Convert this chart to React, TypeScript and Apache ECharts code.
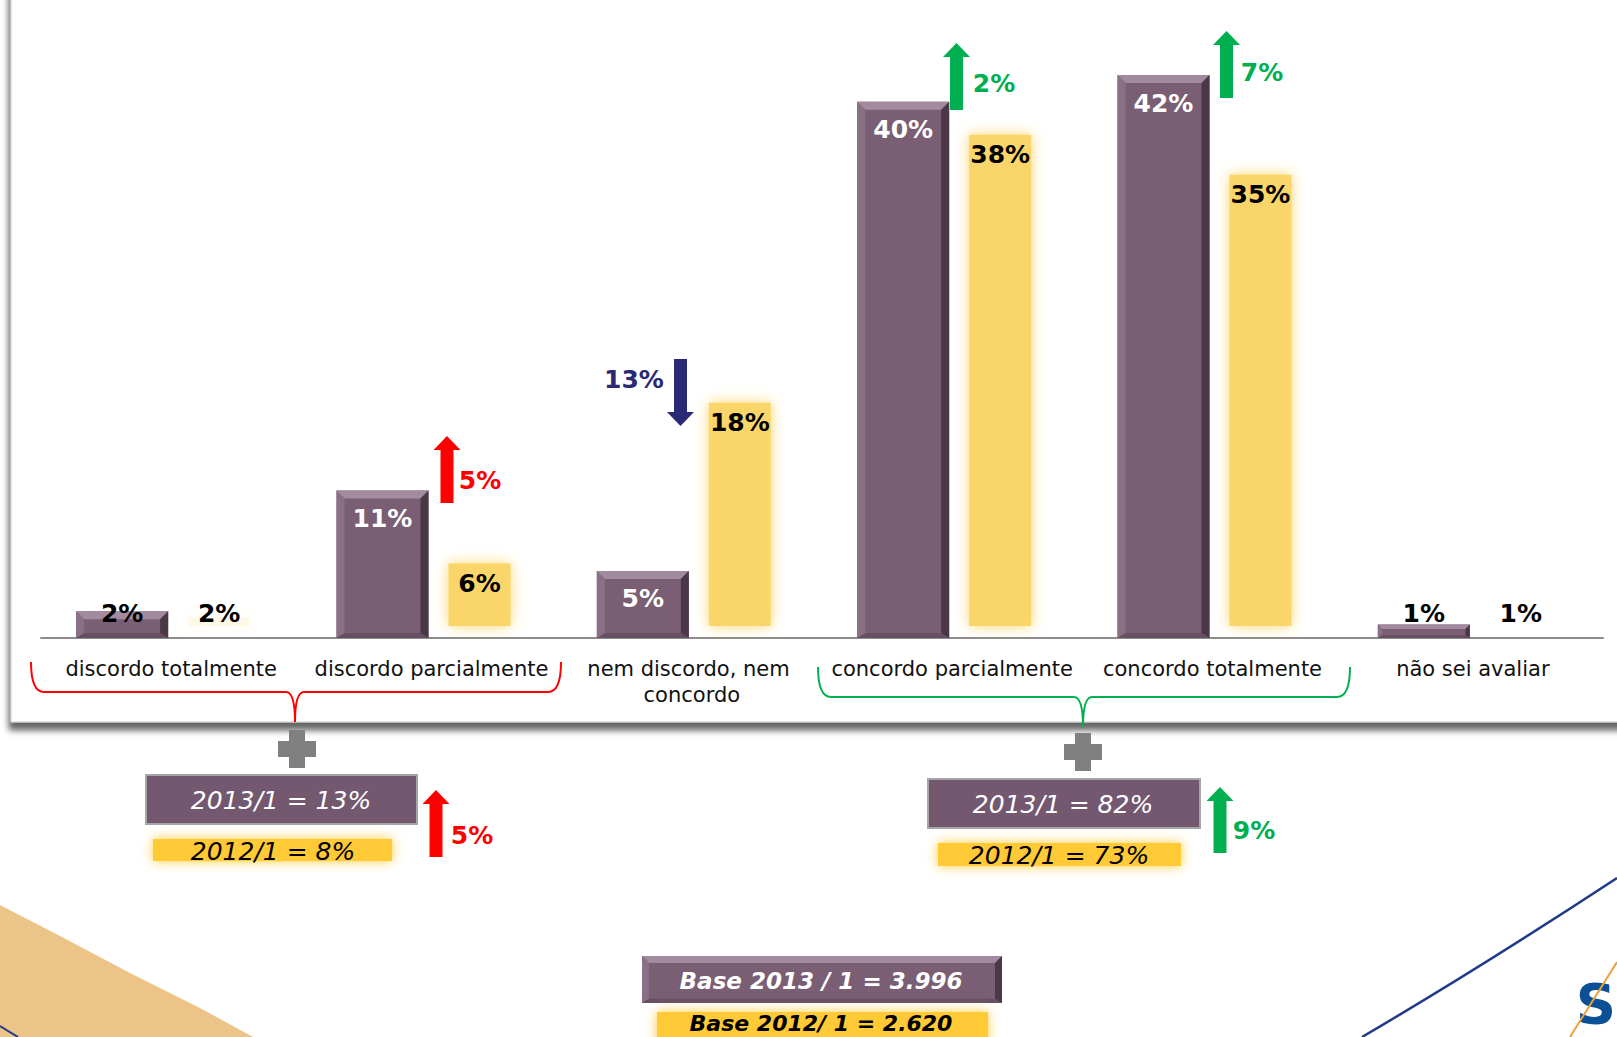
import React, { useEffect, useRef } from 'react';
import * as echarts from 'echarts';

// ---------------- data ----------------
const categories = [
  'discordo totalmente',
  'discordo parcialmente',
  'nem discordo, nem concordo',
  'concordo parcialmente',
  'concordo totalmente',
  'não sei avaliar',
];
const values2013 = [2, 11, 5, 40, 42, 1];
const values2012 = [2, 6, 18, 38, 35, 1];
const period2013 = '2013/1';
const period2012 = '2012/1';
const disagreeIdx = [0, 1];
const agreeIdx = [3, 4];
const base2013 = '3.996';
const base2012 = '2.620';
const yMax = 47;

// ---------------- styles ----------------
const PURPLE = '#7A5E74';
const PURPLE_TOP = '#A28B9F';
const PURPLE_LEFT = '#8A7087';
const PURPLE_RIGHT = '#4A3747';
const PURPLE_BOTTOM = '#664F62';
const YELLOW = '#FAD66A';
const YELLOW_BOX = '#FFCA35';
const RED = '#FF0000';
const GREEN = '#00B050';
const NAVY = '#2A2975';
const FONT = 'DejaVu Sans';

echarts.graphic.registerShape(
  'redBrace',
  echarts.graphic.extendPath(
    'M31 662 Q31 692 44 692 L286 692 Q295 692 295 722 Q295 692 304 692 L548 692 Q561 692 561 662',
    {}
  )
);
echarts.graphic.registerShape(
  'greenBrace',
  echarts.graphic.extendPath(
    'M818 667 Q818 697 831 697 L1074 697 Q1083 697 1083 727 Q1083 697 1092 697 L1337 697 Q1350 697 1350 667',
    {}
  )
);

function bevel(x: number, y: number, w: number, h: number, b: number) {
  const yb = y + h;
  const bb = b * 0.6;
  return [
    { type: 'rect', shape: { x, y, width: w, height: h }, style: { fill: PURPLE } },
    { type: 'polygon', shape: { points: [[x, y], [x + w, y], [x + w - b, y + b], [x + b, y + b]] }, style: { fill: PURPLE_TOP } },
    { type: 'polygon', shape: { points: [[x, y], [x + b, y + b], [x + b, yb - bb], [x, yb]] }, style: { fill: PURPLE_LEFT } },
    { type: 'polygon', shape: { points: [[x + w, y], [x + w, yb], [x + w - b, yb - bb], [x + w - b, y + b]] }, style: { fill: PURPLE_RIGHT } },
    { type: 'polygon', shape: { points: [[x, yb], [x + w, yb], [x + w - b, yb - bb], [x + b, yb - bb]] }, style: { fill: PURPLE_BOTTOM } },
  ];
}

function textEl(x: number, y: number, text: string, fill: string, size: number, weight: string, italic: boolean, z = 20, align = 'center') {
  return {
    type: 'text',
    x,
    y,
    z,
    style: {
      text,
      fill,
      fontSize: size,
      fontWeight: weight,
      fontStyle: italic ? 'italic' : 'normal',
      fontFamily: FONT,
      align,
      verticalAlign: 'middle',
      textAlign: align,
      textVerticalAlign: 'middle',
    },
  };
}

function upArrow(cx: number, tip: number, bottom: number, color: string) {
  const hb = tip + 14;
  return {
    type: 'polygon',
    z: 20,
    shape: {
      points: [[cx, tip], [cx + 13.5, hb], [cx + 6.5, hb], [cx + 6.5, bottom], [cx - 6.5, bottom], [cx - 6.5, hb], [cx - 13.5, hb]],
    },
    style: { fill: color },
  };
}
function downArrow(cx: number, top: number, tip: number, color: string) {
  const hb = tip - 14;
  return {
    type: 'polygon',
    z: 20,
    shape: {
      points: [[cx - 6.5, top], [cx + 6.5, top], [cx + 6.5, hb], [cx + 13.5, hb], [cx, tip], [cx - 13.5, hb], [cx - 6.5, hb]],
    },
    style: { fill: color },
  };
}
function plus(cx: number, cy: number) {
  return [
    { type: 'rect', z: 20, shape: { x: cx - 19, y: cy - 8, width: 38, height: 16 }, style: { fill: '#808080' } },
    { type: 'rect', z: 20, shape: { x: cx - 8, y: cy - 19, width: 16, height: 38 }, style: { fill: '#808080' } },
  ];
}
function glowBox(x: number, y: number, w: number, h: number, color: string, blur: number, opacity = 1) {
  return {
    type: 'rect',
    z: 18,
    shape: { x, y, width: w, height: h },
    style: { fill: color, opacity, shadowBlur: blur, shadowColor: color },
  };
}

const SMALL = 60;

function renderPurple(params: any, api: any) {
  const i = api.value(0);
  const v = api.value(1);
  const top = api.coord([i, v]);
  const base = api.coord([i, 0]);
  const w = 92;
  const cx = top[0] - 49;
  const h = base[1] - top[1];
  const b = Math.min(8, h / 3);
  const small = h < SMALL;
  const ly = small ? base[1] - 25 : top[1] + 28;
  return {
    type: 'group',
    children: [
      ...bevel(cx - w / 2, top[1], w, h, b),
      {
        type: 'text',
        x: cx,
        y: ly,
        style: {
          text: v + '%',
          fill: small ? '#000' : '#fff',
          fontSize: 25,
          fontWeight: 'bold',
          fontFamily: FONT,
          align: 'center',
          verticalAlign: 'middle',
          textAlign: 'center',
          textVerticalAlign: 'middle',
        },
      },
    ],
  };
}

function renderYellow(params: any, api: any) {
  const i = api.value(0);
  const v = api.value(1);
  const top = api.coord([i, v]);
  const base = api.coord([i, 0]);
  const w = 62;
  const cx = top[0] + 48;
  const h = base[1] - top[1];
  const yTop = top[1] + 6;
  const yBot = base[1] - 12;
  const hv = Math.max(0, yBot - yTop);
  const op = Math.min(1, Math.max(0.12, (hv / 45) * (hv / 45)));
  const small = h < SMALL;
  const ly = small ? base[1] - 25 : top[1] + 26;
  return {
    type: 'group',
    children: [
      {
        type: 'rect',
        shape: { x: cx - w / 2, y: yTop, width: w, height: hv },
        style: { fill: YELLOW, opacity: op, shadowBlur: 14, shadowColor: YELLOW },
      },
      {
        type: 'text',
        x: cx,
        y: ly,
        style: {
          text: v + '%',
          fill: '#000',
          fontSize: 25,
          fontWeight: 'bold',
          fontFamily: FONT,
          align: 'center',
          verticalAlign: 'middle',
          textAlign: 'center',
          textVerticalAlign: 'middle',
        },
      },
    ],
  };
}

const sumOf = (arr: number[], idx: number[]) => idx.reduce((s, k) => s + arr[k], 0);

function buildOption() {
  const dis13 = sumOf(values2013, disagreeIdx);
  const dis12 = sumOf(values2012, disagreeIdx);
  const agr13 = sumOf(values2013, agreeIdx);
  const agr12 = sumOf(values2012, agreeIdx);
  const diff = values2013.map((v, i) => v - values2012[i]);

  const elements: any[] = [
    // panel
    {
      type: 'rect',
      z: -10,
      shape: { x: 11, y: -20, width: 1650, height: 742 },
      style: {
        fill: '#fff',
        stroke: '#C8C8C8',
        lineWidth: 1,
        shadowBlur: 6,
        shadowOffsetX: -2,
        shadowOffsetY: 8,
        shadowColor: 'rgba(0,0,0,0.6)',
      },
    },
    // decorative background
    {
      type: 'polygon',
      z: -10,
      shape: { points: [[0, 905], [60, 936], [130, 973], [200, 1008], [253, 1037], [0, 1037]] },
      style: { fill: '#ECC487' },
    },
    { type: 'line', z: -9, shape: { x1: 0, y1: 1026, x2: 18, y2: 1037 }, style: { stroke: '#1F3A8A', lineWidth: 2 } },
    {
      type: 'bezierCurve',
      z: -9,
      shape: { x1: 1362, y1: 1037, x2: 1617, y2: 878, cpx1: 1480, cpy1: 968 },
      style: { stroke: '#1F3A8A', lineWidth: 2.5, fill: 'none' },
    },
    textEl(1616, 1003, 'S', '#0B4F94', 56, 'bold', false, -8, 'right'),
    { type: 'line', z: -7, shape: { x1: 1570, y1: 1037, x2: 1617, y2: 962 }, style: { stroke: '#E9A23B', lineWidth: 2 } },
    // braces
    { type: 'redBrace', z: 15, style: { stroke: RED, lineWidth: 2, fill: 'none' } },
    { type: 'greenBrace', z: 15, style: { stroke: GREEN, lineWidth: 2, fill: 'none' } },
    // arrows on bars
    upArrow(447, 436, 503, RED),
    textEl(480, 480, Math.abs(diff[1]) + '%', RED, 25, 'bold', false),
    downArrow(680.5, 359, 426, NAVY),
    textEl(634, 379, Math.abs(diff[2]) + '%', NAVY, 25, 'bold', false),
    upArrow(956.5, 43, 110, GREEN),
    textEl(994, 83, Math.abs(diff[3]) + '%', GREEN, 25, 'bold', false),
    upArrow(1226.5, 31, 98, GREEN),
    textEl(1262, 72, Math.abs(diff[4]) + '%', GREEN, 25, 'bold', false),
    // left group summary
    ...plus(297, 749),
    {
      type: 'rect',
      z: 18,
      shape: { x: 146, y: 775, width: 271, height: 49 },
      style: { fill: '#735870', stroke: '#A6A6A6', lineWidth: 2 },
    },
    textEl(281, 800, `${period2013} = ${dis13}%`, '#fff', 25, 'normal', true),
    glowBox(153, 839, 239, 22, YELLOW_BOX, 12),
    textEl(273, 851, `${period2012} = ${dis12}%`, '#000', 25, 'normal', true),
    upArrow(436, 790, 857, RED),
    textEl(472, 835, dis13 - dis12 + '%', RED, 25, 'bold', false),
    // right group summary
    ...plus(1083, 752),
    {
      type: 'rect',
      z: 18,
      shape: { x: 928, y: 779, width: 272, height: 49 },
      style: { fill: '#735870', stroke: '#A6A6A6', lineWidth: 2 },
    },
    textEl(1063, 804, `${period2013} = ${agr13}%`, '#fff', 25, 'normal', true),
    glowBox(938, 843, 243, 23, YELLOW_BOX, 12),
    textEl(1059, 855, `${period2012} = ${agr12}%`, '#000', 25, 'normal', true),
    upArrow(1220, 787, 853, GREEN),
    textEl(1254, 830, agr13 - agr12 + '%', GREEN, 25, 'bold', false),
    // base boxes
    { type: 'group', z: 18, children: bevel(642, 956, 360, 47, 7).map((e) => ({ ...e, z: 18 })) },
    textEl(821, 981, `Base ${period2013.replace('/', ' / ')} = ${base2013}`, '#fff', 23, 'bold', true),
    glowBox(657, 1012, 331, 40, YELLOW_BOX, 12),
    textEl(821, 1023, `Base ${period2012.replace('/', '/ ')} = ${base2012}`, '#000', 22, 'bold', true),
  ];

  return {
    animation: false,
    backgroundColor: '#ffffff',
    grid: { left: 41, right: 14, top: 8, bottom: 399 },
    xAxis: {
      type: 'category',
      data: categories,
      z: 3,
      axisLine: { lineStyle: { color: '#8C8C8C', width: 2 } },
      axisTick: { show: false },
      axisLabel: {
        interval: 0,
        color: '#111',
        fontSize: 21,
        fontFamily: FONT,
        margin: 18,
        lineHeight: 26,
        width: 255,
        overflow: 'break',
      },
    },
    yAxis: { type: 'value', min: 0, max: yMax, show: false },
    series: [
      {
        type: 'custom',
        name: period2013,
        z: 4,
        data: values2013.map((v, i) => [i, v]),
        encode: { x: 0, y: 1 },
        renderItem: renderPurple,
      },
      {
        type: 'custom',
        name: period2012,
        z: 4,
        data: values2012.map((v, i) => [i, v]),
        encode: { x: 0, y: 1 },
        renderItem: renderYellow,
      },
    ],
    graphic: { elements },
  };
}

export default function App() {
  const ref = useRef<HTMLDivElement>(null);
  useEffect(() => {
    document.body.style.margin = '0';
    const chart = echarts.init(ref.current as HTMLDivElement, null, { renderer: 'svg' });
    chart.setOption(buildOption() as any);
    return () => chart.dispose();
  }, []);
  return <div ref={ref} style={{ width: 1617, height: 1037 }} />;
}
